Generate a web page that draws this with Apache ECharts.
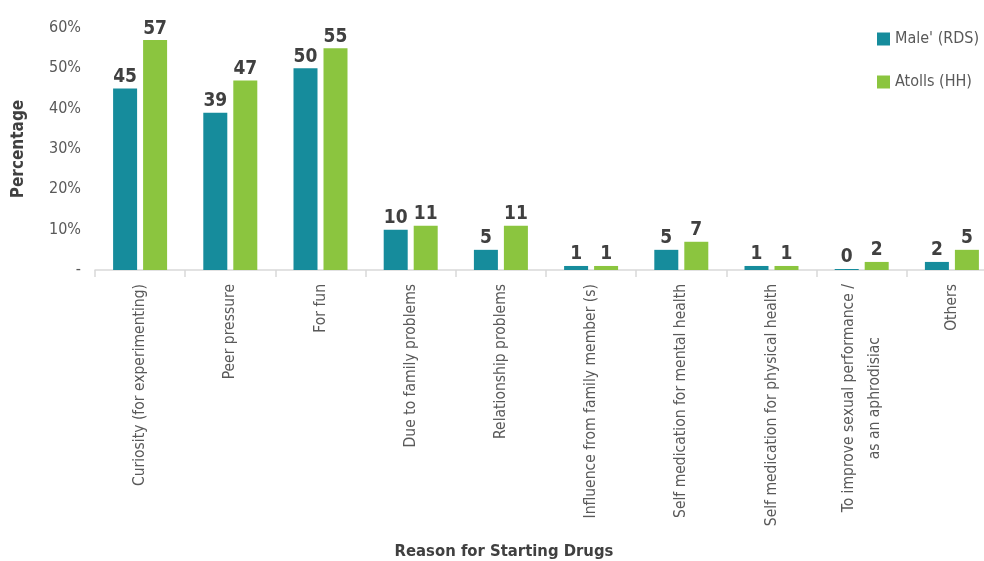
<!DOCTYPE html>
<html>
<head>
<meta charset="utf-8">
<script src="https://cdn.jsdelivr.net/npm/echarts@6/dist/echarts.min.js"></script>
<style>
  html, body { margin: 0; padding: 0; background: #fff; }
  #chart { width: 984px; height: 561px; }
</style>
</head>
<body>
<div id="chart"></div>
<script>
// Reasons for starting drugs, percentage of respondents
const categories = [
  'Curiosity (for experimenting)',
  'Peer pressure',
  'For fun',
  'Due to family problems',
  'Relationship problems',
  'Influence from family member (s)',
  'Self medication for mental health',
  'Self medication for physical health',
  'To improve sexual performance /\nas an aphrodisiac',
  'Others'
];
const maleRDS = [45, 39, 50, 10, 5, 1, 5, 1, 0, 2];
const atollsHH = [57, 47, 55, 11, 11, 1, 7, 1, 2, 5];
const seriesNames = ["Male' (RDS)", 'Atolls (HH)'];
const yTicks = [0, 10, 20, 30, 40, 50, 60];

const FONT = '"DejaVu Sans Condensed", Roboto, sans-serif';
const TEAL = '#168c9c';
const GREEN = '#8bc53f';
const GREY = '#595959';
const DARK = '#404040';

const chart = echarts.init(document.getElementById('chart'));

const valueLabel = {
  show: true,
  position: 'top',
  distance: 2,
  color: DARK,
  fontFamily: FONT,
  fontWeight: 'bold',
  fontSize: 19
};

chart.setOption({
  animation: false,
  textStyle: { fontFamily: FONT },
  legend: {
    orient: 'vertical',
    left: 872,
    top: 26,
    itemWidth: 13,
    itemHeight: 13,
    itemGap: 27,
    icon: 'rect',
    textStyle: { color: GREY, fontSize: 16, fontFamily: FONT },
    data: seriesNames
  },
  grid: { left: 95, top: 28, width: 902, bottom: 291, outerBoundsMode: 'none', containLabel: false },
  xAxis: {
    type: 'category',
    data: categories,
    name: 'Reason for Starting Drugs',
    nameLocation: 'middle',
    nameGap: 273,
    nameTextStyle: { color: DARK, fontWeight: 'bold', fontSize: 16.5, fontFamily: FONT, padding: [0, 84, 0, 0] },
    axisLine: { lineStyle: { color: '#d9d9d9', width: 1.5 } },
    axisTick: { show: true, length: 7, lineStyle: { color: '#d9d9d9', width: 1.5 } },
    axisLabel: {
      interval: 0,
      rotate: 90,
      margin: 14,
      color: GREY,
      fontSize: 15.5,
      fontFamily: FONT,
      lineHeight: 26,
      formatter: function (v) {
        return v.split('\n').map(function (s) { return '{c|' + s + '}'; }).join('\n');
      },
      rich: { c: { align: 'center', color: GREY, fontSize: 15.5, fontFamily: FONT, lineHeight: 26 } }
    }
  },
  yAxis: {
    type: 'value',
    min: yTicks[0],
    max: yTicks[yTicks.length - 1],
    interval: 10,
    name: 'Percentage',
    nameLocation: 'middle',
    nameGap: 68,
    nameRotate: 90,
    nameTextStyle: { color: DARK, fontWeight: 'bold', fontSize: 17, fontFamily: FONT },
    splitLine: { show: false },
    axisLine: { show: false },
    axisTick: { show: false },
    axisLabel: {
      margin: 14,
      color: GREY,
      fontSize: 16,
      fontFamily: FONT,
      formatter: function (v) { return v === 0 ? '-' : v + '%'; }
    }
  },
  series: [
    {
      name: seriesNames[0],
      type: 'bar',
      data: maleRDS,
      barWidth: 24,
      barGap: '25%',
      barMinHeight: 1,
      itemStyle: { color: TEAL },
      label: valueLabel
    },
    {
      name: seriesNames[1],
      type: 'bar',
      data: atollsHH,
      barWidth: 24,
      barMinHeight: 1,
      itemStyle: { color: GREEN },
      label: valueLabel
    }
  ]
});
</script>
</body>
</html>
